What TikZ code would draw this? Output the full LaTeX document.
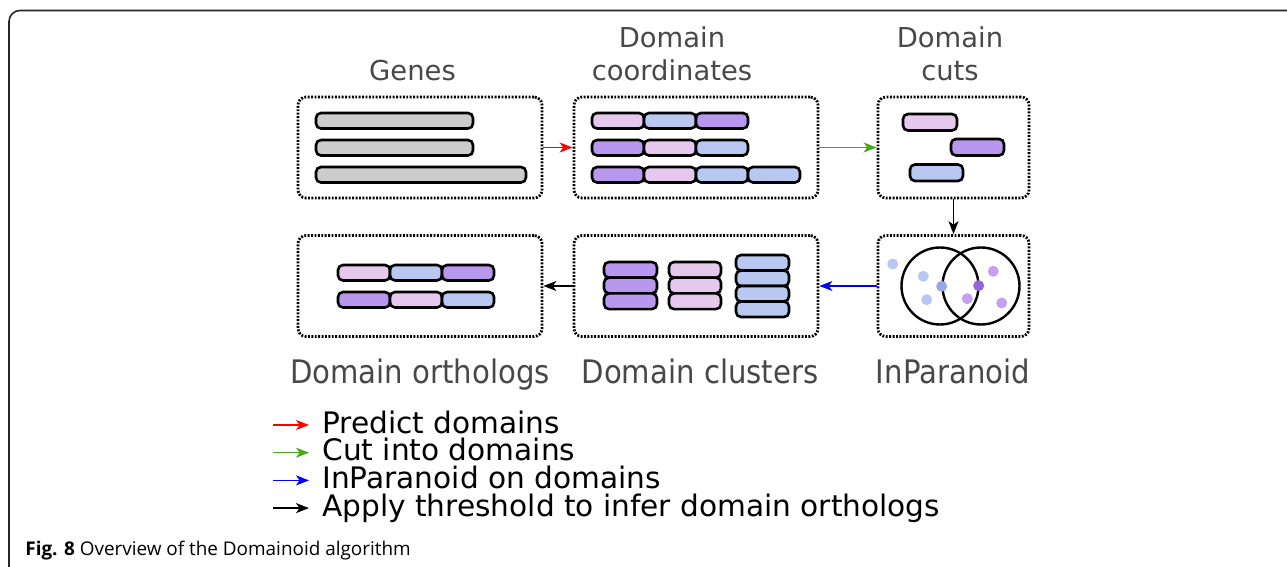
\documentclass[tikz,border=0pt]{standalone}
\usepackage{fontspec}
\setmainfont{DejaVu Sans}
\newfontfamily\condfont[FakeStretch=0.9]{DejaVu Sans}
\newfontfamily\capfont{Open Sans}
\usepackage{tikz}
\usetikzlibrary{arrows.meta, positioning}

\definecolor{pinkd}{RGB}{230,200,238}
\definecolor{blued}{RGB}{184,200,240}
\definecolor{purpd}{RGB}{184,152,238}
\definecolor{grayd}{RGB}{204,204,204}
\definecolor{titlegray}{RGB}{72,72,72}
\definecolor{arrgreen}{RGB}{70,170,20}
\definecolor{dotblue}{RGB}{184,198,242}
\definecolor{dotmid}{RGB}{150,168,230}
\definecolor{dotpurp}{RGB}{196,160,240}
\definecolor{dotdeep}{RGB}{150,100,220}

% one row of domain segments: x, y, colours
\newcommand{\segrow}[3]{%
  \foreach \c [count=\k from 0] in {#3}
    \draw[seg, fill=\c] (#1+52*\k, #2) rectangle ++(52,15.5);
}

\begin{document}
\begin{tikzpicture}[x=0.5pt, y=-0.5pt, >={Stealth[length=6.5pt, width=5pt, inset=1.8pt]},
  stage/.style={draw, line width=1.4pt, dash pattern=on 0.95pt off 0.75pt, rounded corners=4pt, inner sep=0pt, minimum height=50.5pt},
  wide/.style={stage, minimum width=122pt},
  narrow/.style={stage, minimum width=75.5pt},
  seg/.style={draw, line width=1.3pt, rounded corners=2.5pt},
  title/.style={anchor=south, align=center, inner sep=0pt, text=titlegray, font=\fontsize{13.7}{16.5}\selectfont},
  label/.style={anchor=base, inner sep=0pt, text=titlegray, font=\condfont\fontsize{16.2}{19}\selectfont},
  legtext/.style={anchor=base west, inner sep=0pt, font=\fontsize{14.8}{17}\selectfont},
  flow/.style={->, line width=0.7pt}]

  \useasboundingbox (0,0) rectangle (1287,567);
  \draw[line width=0.8pt, color=black!85, rounded corners=5.5pt] (9,10.5) rectangle (1330,580);

  % stages
  \node[wide] (genes) at (420,147.5) {};
  \node[wide] (coords) at (696,147.5) {};
  \node[narrow] (cuts) at (953.5,147.5) {};
  \node[narrow] (inpar) at (953.5,286) {};
  \node[wide] (clusters) at (696,286) {};
  \node[wide] (orthologs) at (420,286) {};

  \node[title] (tgenes) at (412.5,81.5) {Genes};
  \node[title] (tcoords) at (672,81.5) {Domain\\coordinates};
  \node[title] (tcuts) at (950,81.5) {Domain\\cuts};

  \node[label] (lorth) at (420,383) {Domain orthologs};
  \node[label] (lclust) at (700,383) {Domain clusters};
  \node[label] (linpar) at (953,383) {InParanoid};

  % genes
  \draw[seg, fill=grayd] (316,113) rectangle (473,128.5);
  \draw[seg, fill=grayd] (316,140) rectangle (473,155.5);
  \draw[seg, fill=grayd] (316,167) rectangle (526,182.5);

  % domain coordinates
  \segrow{592}{113}{pinkd,blued,purpd}
  \segrow{592}{140}{purpd,pinkd,blued}
  \segrow{592}{167}{purpd,pinkd,blued,blued}

  % domain cuts
  \draw[seg, fill=pinkd] (903,114) rectangle (957,130.5);
  \draw[seg, fill=purpd] (951,139) rectangle (1004,155.5);
  \draw[seg, fill=blued] (910,164.5) rectangle (963,181);

  % inparanoid
  \draw[line width=1.2pt] (940,286) circle[radius=38.5];
  \draw[line width=1.2pt] (981,286) circle[radius=38.5];
  \foreach \px/\py/\c in {892.7/264/dotblue, 923.3/276.3/dotblue, 926.7/299.7/dotblue, 941.7/286.3/dotmid,
                          993.3/271.3/dotpurp, 967.3/298.7/dotpurp, 1001.7/303/dotpurp, 978.7/285.7/dotdeep}
    \fill[\c] (\px,\py) circle[radius=5.5];

  % domain clusters
  \foreach \r in {0,1,2} {
    \draw[seg, fill=purpd] (604,262+15.7*\r) rectangle ++(53,15.7);
    \draw[seg, fill=pinkd] (669,262+15.7*\r) rectangle ++(52,15.7);
  }
  \foreach \r in {0,1,2,3}
    \draw[seg, fill=blued] (736,255+15.5*\r) rectangle ++(53,15.5);

  % domain orthologs
  \segrow{338}{265}{pinkd,blued,purpd}
  \segrow{338}{292}{purpd,pinkd,blued}

  % flow
  \draw[flow, red] (genes) -- (coords);
  \draw[flow, arrgreen] (coords) -- (cuts);
  \draw[flow] (cuts) -- (inpar);
  \draw[flow, blue] (inpar) -- (clusters);
  \draw[flow] (clusters) -- (orthologs);

  % legend
  \foreach \col/\txt [count=\i] in {red/Predict domains, arrgreen/Cut into domains,
                                    blue/InParanoid on domains, black/Apply threshold to infer domain orthologs} {
    \node[legtext] (leg\i) at (322,433+27.7*\i-27.7) {\txt};
    \draw[flow, \col] ([xshift=-24.5pt, yshift=4pt]leg\i.base west) -- ([xshift=-6.5pt, yshift=4pt]leg\i.base west);
  }

  \node[anchor=base west, inner sep=0pt, font=\capfont\fontsize{9.45}{11}\selectfont] (caption) at (25,555)
    {\textbf{Fig. 8} Overview of the Domainoid algorithm};
\end{tikzpicture}
\end{document}
